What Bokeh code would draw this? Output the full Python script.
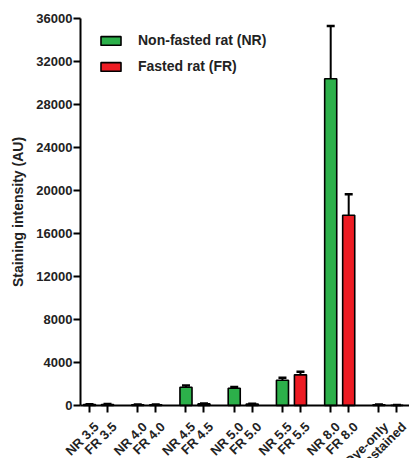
import math
from bokeh.plotting import figure
from bokeh.models import (ColumnDataSource, FixedTicker, Whisker, TeeHead,
                          Legend, LegendItem, Range1d, LabelSet)
from bokeh.core.properties import value
from bokeh.embed import file_html
from bokeh.resources import INLINE

# ---- data ----
groups = ["3.5", "4.0", "4.5", "5.0", "5.5", "8.0"]
nr_values = [80, 60, 1700, 1600, 2350, 30400]
nr_errors = [40, 30, 150, 120, 230, 4900]
fr_values = [100, 70, 150, 130, 2850, 17700]
fr_errors = [40, 30, 40, 30, 300, 1950]
control_labels = ["Dye-only", "Unstained"]
control_values = [60, 30]
control_errors = [30, 20]
y_ticks = [0, 4000, 8000, 12000, 16000, 20000, 24000, 28000, 32000, 36000]
series_names = ["Non-fasted rat (NR)", "Fasted rat (FR)"]

GREEN = "#2cb04a"
RED = "#ed1c24"
FONT = "Liberation Sans"
PAIR = 2.68  # spacing between pair starts (bar units)

nr_x = [i * PAIR for i in range(len(groups))]
fr_x = [i * PAIR + 1 for i in range(len(groups))]
ctl_x = [len(groups) * PAIR, len(groups) * PAIR + 1]

nr_src = ColumnDataSource(dict(x=nr_x, top=nr_values,
                               upper=[v + e for v, e in zip(nr_values, nr_errors)]))
fr_src = ColumnDataSource(dict(x=fr_x, top=fr_values,
                               upper=[v + e for v, e in zip(fr_values, fr_errors)]))
ctl_src = ColumnDataSource(dict(x=ctl_x, top=control_values,
                                upper=[v + e for v, e in zip(control_values, control_errors)]))

WIDTH, HEIGHT = 409, 458
Y_TOP = 36000
PX = Y_TOP / 387.0          # data units per pixel (36000 spans 387 px)
X_AXIS_AT = -0.5            # where the value axis stands
x_range = Range1d(X_AXIS_AT - 80 / 18.0, X_AXIS_AT + (WIDTH - 80) / 18.0)
y_range = Range1d(-53 * PX, Y_TOP + 18 * PX)

p = figure(width=WIDTH, height=HEIGHT, output_backend="svg", toolbar_location=None,
           x_range=x_range, y_range=y_range,
           min_border_left=0, min_border_right=0, min_border_top=0,
           min_border_bottom=0)
p.outline_line_color = None
p.xgrid.visible = False
p.ygrid.visible = False
p.background_fill_color = "white"

W = 0.67
r_nr = p.vbar(x="x", top="top", bottom=0, width=W, source=nr_src,
              fill_color=GREEN, line_color="black", line_width=1.6)
r_fr = p.vbar(x="x", top="top", bottom=0, width=W, source=fr_src,
              fill_color=RED, line_color="black", line_width=1.6)
p.vbar(x="x", top="top", bottom=0, width=W, source=ctl_src,
       fill_color="white", line_color="black", line_width=1.6)

for src in (nr_src, fr_src, ctl_src):
    w = Whisker(base="x", lower="top", upper="upper", source=src,
                dimension="height", line_color="black", line_width=2,
                upper_head=TeeHead(size=8, line_width=2.5, line_color="black"),
                lower_head=None)
    p.add_layout(w)

# category labels
cat_labels = []
for g in groups:
    cat_labels += ["NR " + g, "FR " + g]
cat_labels += control_labels
cat_x = []
for a, b in zip(nr_x, fr_x):
    cat_x += [a, b]
cat_x += ctl_x

xa = p.xaxis[0]
xa.fixed_location = 0
xa.bounds = (X_AXIS_AT, x_range.end)
xa.ticker = FixedTicker(ticks=cat_x)
xa.major_label_overrides = {float(x): "" for x in cat_x}
xa.major_label_text_font_size = "1px"
xa.major_tick_out = 7
xa.major_tick_in = 0
xa.minor_tick_line_color = None
xa.axis_line_width = 2
xa.major_tick_line_width = 2

lab_src = ColumnDataSource(dict(x=cat_x, y=[0] * len(cat_x), text=cat_labels))
p.add_layout(LabelSet(x="x", y="y", text="text", source=lab_src,
                      angle=math.pi / 4, x_offset=7, y_offset=-19,
                      text_align="right", text_baseline="middle",
                      text_font=value(FONT), text_font_style="bold",
                      text_font_size="13px", text_color="#222222"))

ya = p.yaxis[0]
ya.fixed_location = X_AXIS_AT
ya.bounds = (0, Y_TOP)
ya.ticker = FixedTicker(ticks=y_ticks)
ya.major_tick_out = 7
ya.major_tick_in = 0
ya.minor_tick_line_color = None
ya.axis_line_width = 2
ya.major_tick_line_width = 2
ya.major_label_text_font = FONT
ya.major_label_text_font_style = "bold"
ya.major_label_text_font_size = "13px"
ya.major_label_text_color = "#222222"
ya.major_label_standoff = 1
ya.axis_label = "Staining intensity (AU)"
ya.axis_label_text_font = FONT
ya.axis_label_text_font_style = "bold"
ya.axis_label_text_font_size = "14px"
ya.axis_label_text_color = "#222222"
ya.axis_label_standoff = 7

legend = Legend(items=[LegendItem(label=series_names[0], renderers=[r_nr]),
                       LegendItem(label=series_names[1], renderers=[r_fr])],
                location=(98, 384), orientation="vertical",
                glyph_width=25, glyph_height=11, label_standoff=15,
                spacing=10, padding=0, margin=0,
                border_line_color=None, background_fill_alpha=0,
                label_text_font=FONT, label_text_font_style="bold",
                label_text_font_size="14px", label_text_color="#222222")
p.add_layout(legend)

open("out.html", "w").write(file_html(p, INLINE))
